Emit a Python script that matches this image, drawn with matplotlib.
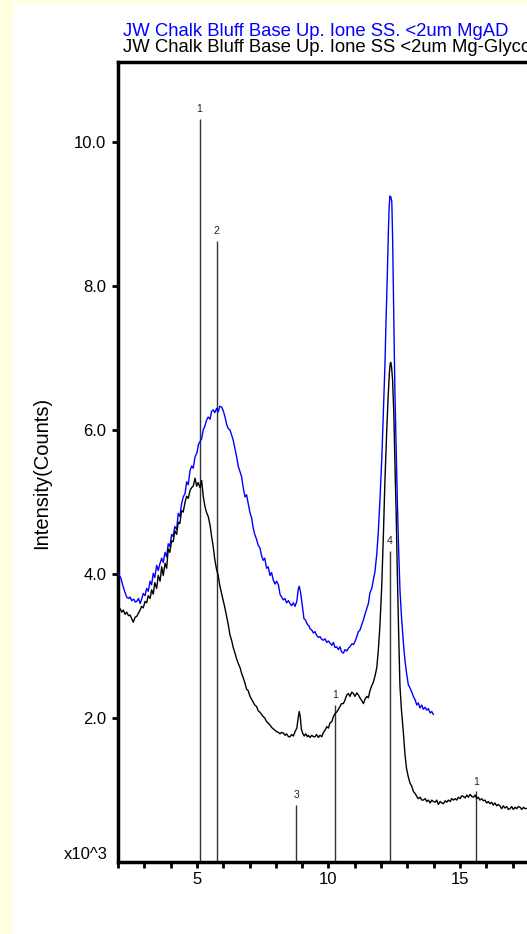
import matplotlib
matplotlib.use("Agg")
import matplotlib.pyplot as plt
from matplotlib.patches import Rectangle

plt.rcParams['font.family'] = ['Liberation Sans', 'DejaVu Sans']

# ---- data ----
title_ad = "JW Chalk Bluff Base Up. Ione SS. <2um MgAD"
title_gly = "JW Chalk Bluff Base Up. Ione SS <2um Mg-Glycol"

ad_x = [2.0, 2.05, 2.1, 2.2, 2.27, 2.33, 2.4, 2.46, 2.52, 2.6, 2.66, 2.71, 2.78, 2.84, 2.9, 2.96,
        3.03, 3.09, 3.15, 3.22, 3.28, 3.34, 3.4, 3.47, 3.53, 3.6, 3.66, 3.72, 3.79, 3.85, 3.91,
        3.97, 4.04, 4.1, 4.16, 4.23, 4.29, 4.35, 4.42, 4.48, 4.55, 4.61, 4.67, 4.74, 4.8, 4.86,
        4.93, 5.0, 5.06, 5.12, 5.18, 5.24, 5.3, 5.37, 5.43, 5.5, 5.56, 5.62, 5.68, 5.75, 5.81,
        5.87, 5.94, 6.0, 6.07, 6.13, 6.19, 6.26, 6.32, 6.38, 6.45, 6.51, 6.57, 6.64, 6.7, 6.76,
        6.83, 6.89, 6.95, 7.02, 7.08, 7.14, 7.2, 7.27, 7.33, 7.4, 7.46, 7.52, 7.58, 7.65, 7.71,
        7.78, 7.84, 7.9, 7.97, 8.03, 8.1, 8.16, 8.22, 8.29, 8.35, 8.41, 8.48, 8.54, 8.6, 8.67,
        8.73, 8.8, 8.85, 8.89, 8.94, 8.98, 9.03, 9.07, 9.13, 9.2, 9.26, 9.3, 9.37, 9.43, 9.49,
        9.55, 9.62, 9.68, 9.75, 9.81, 9.87, 9.94, 10.0, 10.06, 10.13, 10.19, 10.25, 10.31, 10.38,
        10.44, 10.5, 10.57, 10.63, 10.7, 10.76, 10.82, 10.89, 10.95, 11.01, 11.08, 11.14, 11.2,
        11.27, 11.33, 11.39, 11.46, 11.52, 11.58, 11.65, 11.71, 11.77, 11.84, 11.9, 11.96, 12.03,
        12.09, 12.15, 12.19, 12.24, 12.28, 12.31, 12.34, 12.37, 12.41, 12.44, 12.47, 12.5, 12.53,
        12.58, 12.62, 12.67, 12.72, 12.78, 12.85, 12.91, 12.98, 13.04, 13.1, 13.17, 13.23, 13.3,
        13.36, 13.42, 13.48, 13.55, 13.61, 13.67, 13.74, 13.8, 13.87, 13.93, 13.99]
ad_y = [4.02, 3.98, 3.95, 3.82, 3.74, 3.68, 3.66, 3.68, 3.63, 3.65, 3.61, 3.62, 3.66, 3.59, 3.65, 3.73,
        3.7, 3.8, 3.76, 3.9, 3.85, 4.01, 3.95, 4.12, 4.05, 4.15, 4.22, 4.16, 4.3, 4.24, 4.42,
        4.38, 4.55, 4.52, 4.66, 4.62, 4.84, 4.8, 4.98, 5.07, 5.12, 5.28, 5.24, 5.44, 5.5, 5.47,
        5.63, 5.68, 5.8, 5.84, 5.88, 6.0, 6.05, 6.14, 6.18, 6.15, 6.26, 6.28, 6.24, 6.3, 6.25,
        6.33, 6.32, 6.27, 6.18, 6.08, 6.02, 6.0, 5.93, 5.86, 5.74, 5.63, 5.5, 5.42, 5.35, 5.2,
        5.07, 5.1, 4.98, 4.85, 4.78, 4.64, 4.55, 4.48, 4.4, 4.36, 4.25, 4.19, 4.22, 4.08, 4.1,
        3.98, 4.02, 3.92, 3.86, 3.9, 3.85, 3.72, 3.68, 3.64, 3.66, 3.6, 3.63, 3.59, 3.56, 3.6,
        3.55, 3.62, 3.78, 3.83, 3.75, 3.64, 3.5, 3.38, 3.36, 3.3, 3.28, 3.24, 3.22, 3.18, 3.2,
        3.15, 3.12, 3.13, 3.09, 3.08, 3.1, 3.05, 3.07, 3.04, 3.01, 3.05, 2.98, 2.99, 2.95,
        2.99, 2.92, 2.9, 2.95, 2.93, 2.97, 2.99, 3.03, 3.02, 3.06, 3.13, 3.2, 3.22,
        3.3, 3.36, 3.44, 3.52, 3.59, 3.74, 3.8, 3.92, 4.03, 4.28, 4.6, 5.03, 5.6,
        6.26, 6.9, 7.5, 8.15, 8.74, 9.1, 9.25, 9.24, 9.18, 8.7, 7.98, 7.2, 6.5,
        5.7, 5.03, 4.35, 3.79, 3.4, 3.05, 2.8, 2.6, 2.46, 2.42, 2.36, 2.3, 2.25,
        2.18, 2.21, 2.14, 2.18, 2.12, 2.15, 2.11, 2.13, 2.07, 2.09, 2.05]

gly_x = [2.0, 2.04, 2.08, 2.14, 2.2, 2.27, 2.33, 2.4, 2.46, 2.52, 2.58, 2.65, 2.71, 2.78, 2.84, 2.9,
         2.96, 3.03, 3.09, 3.15, 3.22, 3.28, 3.34, 3.4, 3.47, 3.53, 3.6, 3.66, 3.72, 3.79, 3.85,
         3.91, 3.97, 4.04, 4.1, 4.16, 4.23, 4.29, 4.35, 4.42, 4.48, 4.55, 4.61, 4.67, 4.74, 4.8,
         4.86, 4.93, 4.99, 5.05, 5.12, 5.18, 5.24, 5.31, 5.37, 5.43, 5.5, 5.56, 5.62, 5.68, 5.75,
         5.81, 5.87, 5.94, 6.0, 6.07, 6.13, 6.19, 6.26, 6.32, 6.38, 6.45, 6.51, 6.57, 6.64, 6.7,
         6.76, 6.83, 6.89, 6.95, 7.02, 7.08, 7.14, 7.2, 7.27, 7.33, 7.4, 7.46, 7.52, 7.58, 7.65,
         7.71, 7.78, 7.84, 7.9, 7.97, 8.03, 8.1, 8.16, 8.22, 8.29, 8.35, 8.41, 8.48, 8.54, 8.6,
         8.67, 8.73, 8.8, 8.85, 8.89, 8.93, 8.97, 9.02, 9.08, 9.14, 9.2, 9.24, 9.3, 9.37, 9.43,
         9.49, 9.55, 9.62, 9.68, 9.75, 9.81, 9.87, 9.94, 10.0, 10.06, 10.13, 10.19, 10.25, 10.31,
         10.38, 10.44, 10.5, 10.57, 10.63, 10.7, 10.76, 10.82, 10.89, 10.95, 11.01, 11.08, 11.14,
         11.2, 11.27, 11.33, 11.39, 11.46, 11.52, 11.58, 11.65, 11.71, 11.77, 11.84, 11.9, 11.96,
         12.03, 12.09, 12.15, 12.22, 12.27, 12.32, 12.35, 12.37, 12.4, 12.44, 12.49, 12.53, 12.58,
         12.62, 12.67, 12.72, 12.78, 12.85, 12.91, 12.97, 13.04, 13.1, 13.17, 13.23, 13.3, 13.36,
         13.42, 13.49, 13.55, 13.61, 13.68, 13.74, 13.8, 13.87, 13.93, 13.99, 14.06, 14.12, 14.18,
         14.25, 14.31, 14.37, 14.44, 14.5, 14.56, 14.63, 14.69, 14.75, 14.82, 14.88, 14.94, 15.01,
         15.07, 15.13, 15.2, 15.26, 15.32, 15.39, 15.45, 15.51, 15.58, 15.64, 15.7, 15.76, 15.83,
         15.89, 15.95, 16.02, 16.08, 16.14, 16.21, 16.27, 16.33, 16.4, 16.46, 16.52, 16.59, 16.65,
         16.71, 16.78, 16.84, 16.9, 16.97, 17.03, 17.1, 17.16, 17.22, 17.29, 17.35, 17.42, 17.48,
         17.6]
gly_y = [3.55, 3.5, 3.52, 3.47, 3.5, 3.44, 3.47, 3.42, 3.43, 3.38, 3.33, 3.4, 3.41, 3.46, 3.5, 3.55,
         3.53, 3.62, 3.6, 3.7, 3.66, 3.78, 3.72, 3.88, 3.8, 3.98, 3.9, 4.1, 3.98, 4.15, 4.08,
         4.35, 4.3, 4.46, 4.45, 4.6, 4.55, 4.72, 4.7, 4.88, 4.86, 5.0, 5.08, 5.05, 5.16, 5.2,
         5.22, 5.33, 5.22, 5.27, 5.2, 5.3, 5.08, 4.93, 4.85, 4.8, 4.68, 4.52, 4.38, 4.2, 4.06,
         3.98, 3.84, 3.73, 3.64, 3.52, 3.41, 3.3, 3.15, 3.08, 2.98, 2.9, 2.82, 2.76, 2.7, 2.62,
         2.56, 2.48, 2.4, 2.38, 2.3, 2.26, 2.22, 2.18, 2.16, 2.1, 2.08, 2.05, 2.02, 2.0, 1.95,
         1.93, 1.9, 1.87, 1.85, 1.83, 1.81, 1.8, 1.78, 1.8, 1.79, 1.76, 1.78, 1.74, 1.74, 1.77,
         1.75, 1.81, 1.86, 2.0, 2.09, 2.02, 1.85, 1.79, 1.75, 1.78, 1.74, 1.76, 1.73, 1.76, 1.74,
         1.74, 1.77, 1.73, 1.76, 1.74, 1.8, 1.83, 1.88, 1.86, 1.93, 1.95, 2.02, 2.06, 2.08,
         2.12, 2.16, 2.2, 2.2, 2.25, 2.32, 2.34, 2.3, 2.36, 2.34, 2.3, 2.35, 2.32,
         2.28, 2.24, 2.2, 2.26, 2.3, 2.28, 2.38, 2.45, 2.5, 2.58, 2.7, 2.95, 3.29,
         3.85, 4.53, 5.3, 6.01, 6.45, 6.8, 6.92, 6.94, 6.88, 6.7, 6.2, 5.52, 4.8,
         4.04, 3.2, 2.45, 2.1, 1.8, 1.5, 1.3, 1.18, 1.1, 1.05, 0.98, 0.95, 0.91,
         0.88, 0.9, 0.86, 0.86, 0.88, 0.84, 0.86, 0.82, 0.86, 0.84, 0.83, 0.86, 0.8,
         0.84, 0.82, 0.81, 0.85, 0.83, 0.86, 0.84, 0.88, 0.86, 0.88, 0.86, 0.9, 0.88,
         0.92, 0.91, 0.89, 0.93, 0.9, 0.94, 0.91, 0.9, 0.93, 0.88, 0.9, 0.86, 0.88,
         0.85, 0.86, 0.82, 0.84, 0.81, 0.83, 0.79, 0.82, 0.78, 0.8, 0.78, 0.74, 0.78,
         0.75, 0.77, 0.73, 0.74, 0.77, 0.73, 0.76, 0.74, 0.77, 0.76, 0.73, 0.76, 0.74,
         0.75]

stick_x = [5.1, 5.75, 8.77, 10.25, 12.34, 15.61]
stick_h = [10.32, 8.62, 0.79, 2.18, 4.32, 0.98]
stick_labels = ['1', '2', '3', '1', '4', '1']

y_ticks = [2, 4, 6, 8, 10]
y_ticklabels = ['2.0', '4.0', '6.0', '8.0', '10.0']
x_ticks = [5, 10, 15]
x_ticklabels = ['5', '10', '15']

# ---- figure ----
W, H = 527, 934
fig = plt.figure(figsize=(W / 100, H / 100), dpi=100)
fig.patch.set_facecolor('#FFFFE0')
fig.patches.append(Rectangle((13 / W, 0), 1, 1 - 4 / H, transform=fig.transFigure,
                             facecolor='white', edgecolor='none', zorder=-5))

ax = fig.add_axes([118 / W, 1 - 862 / H, 1 - 118 / W, (862 - 62) / H])
ax.set_zorder(2)
ax.set_xlim(2, 2 + (W - 118) / 26.3)
ax.set_ylim(0, 800 / 72)

ax.vlines(stick_x, 0, stick_h, colors='#333333', linewidth=1.0, zorder=2)
for x, h, lab in zip(stick_x, stick_h, stick_labels):
    ax.annotate(lab, (x, h), xytext=(0, 3.5), textcoords='offset points',
                ha='center', va='bottom', fontsize=7.5, color='#222222')

ax.plot(ad_x, ad_y, color='#0000FF', linewidth=1.0, zorder=3)
ax.plot(gly_x, gly_y, color='black', linewidth=1.0, zorder=3)

for s in ['left', 'bottom', 'top']:
    ax.spines[s].set_linewidth(2.5)
ax.spines['right'].set_visible(False)

ax.set_yticks(y_ticks)
ax.set_yticklabels(y_ticklabels, fontsize=12)
ax.set_xticks(x_ticks)
ax.set_xticklabels(x_ticklabels, fontsize=12)
ax.set_xticks(list(range(2, 18)), minor=True)
ax.tick_params(axis='both', which='both', direction='out', length=4, width=2, pad=3)
ax.tick_params(axis='y', which='major', pad=4.5)
ax.tick_params(axis='y', which='minor', length=0)

ax.text(-0.024, 0.0, 'x10^3', transform=ax.transAxes, ha='right', va='bottom',
        fontsize=12)

fig.text(42 / W, 1 - 473 / H, 'Intensity(Counts)', rotation=90, ha='center', va='center',
         fontsize=14.5)

fig.text(123 / W, 1 - 32 / H, title_ad, color='#0000FF', ha='left', va='center', fontsize=13.3)
fig.text(123 / W, 1 - 48 / H, title_gly, color='black', ha='left', va='center', fontsize=13.3)

fig.savefig('out.png', dpi=100, facecolor=fig.get_facecolor())
